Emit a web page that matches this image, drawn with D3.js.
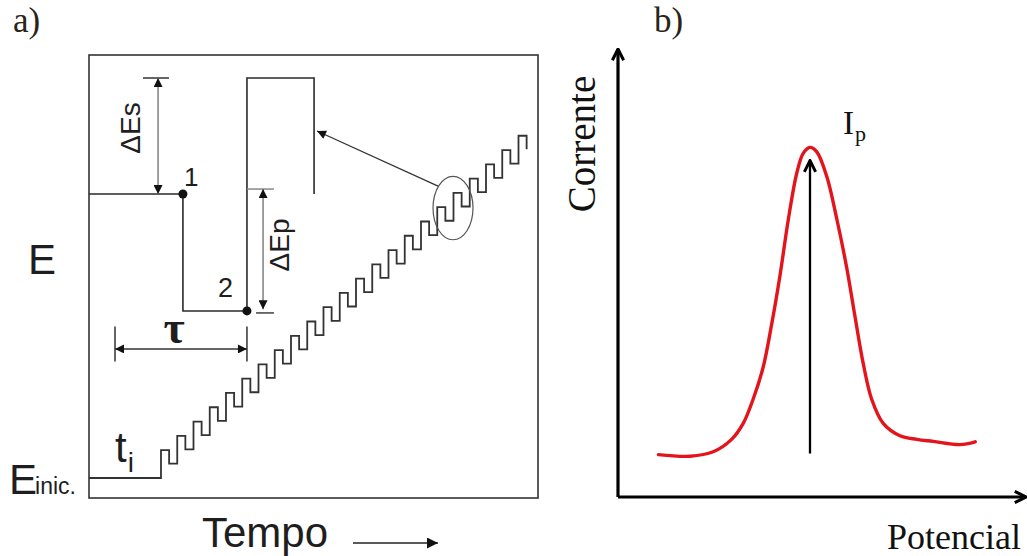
<!DOCTYPE html>
<html>
<head>
<meta charset="utf-8">
<script src="https://cdn.jsdelivr.net/npm/d3@7"></script>
<style>
  body { margin: 0; background: #fff; }
  svg { display: block; }
  .sans { font-family: "Liberation Sans", Arial, sans-serif; fill: #1e1e1e; }
  .serif { font-family: "Liberation Serif", "Times New Roman", serif; fill: #111; }
</style>
</head>
<body>
<svg id="chart"></svg>
<script>
// ---------- panel a : pulse staircase (time units, E units) ----------
const E_inic = 1.4;        // starting potential
const t_first = 4.43;      // time of first pulse (t_i)
const n_steps = 23;
const dE_step = 1;         // staircase increment
const dE_pulse = 0.95;     // pulse amplitude
const pulse_width = 0.5;
const step_period = 1;

// enlarged single pulse drawn on the left
const inset_t = [0, 5.78, 5.78, 9.72, 9.72, 13.85, 13.85];
const inset_E = [21.27, 21.27, 13.09, 13.09, 29.39, 29.39, 21.27];
const dot_t = [5.78, 9.72];
const dot_E = [21.27, 13.09];
const dot_labels = ["1", "2"];

// ---------- panel b : current vs potential peak ----------
const potencial = [1.01, 1.80, 2.38, 2.84, 3.13, 3.38, 3.63, 3.84, 4.05, 4.26, 4.47, 4.63, 4.80,
  4.97, 5.22, 5.47, 5.72, 5.93, 6.13, 6.34, 6.63, 7.05, 7.47, 7.88, 8.55, 8.93];
const corrente = [1.06, 1.02, 1.13, 1.44, 1.84, 2.45, 3.25, 4.31, 5.54, 6.95, 8.10, 8.59, 8.74,
  8.63, 8.01, 6.95, 5.72, 4.48, 3.34, 2.45, 1.84, 1.53, 1.44, 1.39, 1.31, 1.38];
const ip_potencial = 4.8;
const ip_range = [1.09, 8.41];

const width = 1027, height = 556;

const svg = d3.select("#chart")
  .attr("width", width)
  .attr("height", height);

// markers
const defs = svg.append("defs");
defs.append("marker")
  .attr("id", "tri")
  .attr("viewBox", "0 0 10 10")
  .attr("refX", 10).attr("refY", 5)
  .attr("markerUnits", "userSpaceOnUse")
  .attr("markerWidth", 18).attr("markerHeight", 9)
  .attr("orient", "auto-start-reverse")
  .append("path").attr("d", "M0,0L10,5L0,10Z").attr("fill", "#111");

defs.append("marker")
  .attr("id", "tri-big")
  .attr("viewBox", "0 0 10 10")
  .attr("refX", 10).attr("refY", 5)
  .attr("markerUnits", "userSpaceOnUse")
  .attr("markerWidth", 24).attr("markerHeight", 11)
  .attr("orient", "auto-start-reverse")
  .append("path").attr("d", "M0,0L10,5L0,10Z").attr("fill", "#111");

defs.append("marker")
  .attr("id", "chev")
  .attr("viewBox", "0 0 12 12")
  .attr("refX", 11).attr("refY", 6)
  .attr("markerUnits", "userSpaceOnUse")
  .attr("markerWidth", 15).attr("markerHeight", 15)
  .attr("orient", "auto")
  .append("path").attr("d", "M2,1.5L11,6L2,10.5")
  .attr("fill", "none").attr("stroke", "#000").attr("stroke-width", 2.4);

// ---------------- panel a ----------------
const xa = d3.scaleLinear().domain([0, 27.63]).range([89, 538]);
const ya = d3.scaleLinear().domain([0, 31]).range([498, 55]);

const ga = svg.append("g").attr("class", "panel-a");

ga.append("text").attr("class", "serif")
  .attr("x", 13).attr("y", 32)
  .style("font-size", "35px").style("fill", "#2a2418")
  .text("a)");

// frame
ga.append("rect")
  .attr("x", xa(0)).attr("y", ya(31))
  .attr("width", xa(27.63) - xa(0))
  .attr("height", ya(0) - ya(31))
  .attr("fill", "none").attr("stroke", "#333").attr("stroke-width", 1.6);

// staircase points
const stair = [[0, E_inic], [t_first, E_inic]];
for (let k = 0; k < n_steps; k++) {
  const tk = t_first + k * step_period;
  const base = E_inic + k * dE_step;
  stair.push([tk, base]);
  stair.push([tk, base + dE_step + dE_pulse]);
  stair.push([tk + pulse_width, base + dE_step + dE_pulse]);
  stair.push([tk + pulse_width, base + dE_step]);
  if (k < n_steps - 1) stair.push([tk + step_period, base + dE_step]);
}

const lineA = d3.line().x(d => xa(d[0])).y(d => ya(d[1]));

ga.append("path")
  .attr("d", lineA(stair))
  .attr("fill", "none").attr("stroke", "#333").attr("stroke-width", 1.8);

// enlarged pulse
ga.append("path")
  .attr("d", lineA(inset_t.map((t, i) => [t, inset_E[i]])))
  .attr("fill", "none").attr("stroke", "#2a2a2a").attr("stroke-width", 1.6);

ga.selectAll("circle.pt")
  .data(dot_t)
  .enter().append("circle")
  .attr("class", "pt")
  .attr("cx", d => xa(d))
  .attr("cy", (d, i) => ya(dot_E[i]))
  .attr("r", 4.5)
  .attr("fill", "#111");

ga.append("text").attr("class", "sans")
  .attr("x", xa(dot_t[0]) + 1).attr("y", ya(dot_E[0]) - 8)
  .style("font-size", "26px").text(dot_labels[0]);
ga.append("text").attr("class", "sans")
  .attr("x", xa(dot_t[1]) - 29).attr("y", ya(dot_E[1]) - 14)
  .style("font-size", "27px").text(dot_labels[1]);

// delta Es arrow
ga.append("line")
  .attr("x1", xa(3.32)).attr("x2", xa(4.92))
  .attr("y1", ya(29.39)).attr("y2", ya(29.39))
  .attr("stroke", "#333").attr("stroke-width", 1.5);
ga.append("line")
  .attr("x1", xa(4.25)).attr("x2", xa(4.25))
  .attr("y1", ya(29.39)).attr("y2", ya(21.27))
  .attr("stroke", "#777").attr("stroke-width", 1.4)
  .attr("marker-start", "url(#tri)").attr("marker-end", "url(#tri)");
ga.append("text").attr("class", "sans")
  .attr("transform", "translate(140,128) rotate(-90)")
  .attr("text-anchor", "middle")
  .style("font-size", "28px").text("ΔEs");

// delta Ep arrow
ga.append("line")
  .attr("x1", xa(9.72)).attr("x2", xa(11.38))
  .attr("y1", ya(21.62)).attr("y2", ya(21.62))
  .attr("stroke", "#888").attr("stroke-width", 1.5);
ga.append("line")
  .attr("x1", xa(10.28)).attr("x2", xa(11.38))
  .attr("y1", ya(12.95)).attr("y2", ya(12.95))
  .attr("stroke", "#333").attr("stroke-width", 1.4);
ga.append("line")
  .attr("x1", xa(10.71)).attr("x2", xa(10.71))
  .attr("y1", ya(21.62)).attr("y2", ya(13.2))
  .attr("stroke", "#777").attr("stroke-width", 1.4)
  .attr("marker-start", "url(#tri)").attr("marker-end", "url(#tri)");
ga.append("text").attr("class", "sans")
  .attr("transform", "translate(289,245) rotate(-90)")
  .attr("text-anchor", "middle")
  .style("font-size", "28px").text("ΔEp");

// tau
[1.6, 9.72].forEach(t => {
  ga.append("line")
    .attr("x1", xa(t)).attr("x2", xa(t))
    .attr("y1", ya(12.0)).attr("y2", ya(9.55))
    .attr("stroke", "#333").attr("stroke-width", 1.5);
});
ga.append("line")
  .attr("x1", xa(1.6)).attr("x2", xa(9.72))
  .attr("y1", ya(10.43)).attr("y2", ya(10.43))
  .attr("stroke", "#333").attr("stroke-width", 1.5)
  .attr("marker-start", "url(#tri)").attr("marker-end", "url(#tri)");
ga.append("text").attr("class", "serif")
  .attr("x", 174).attr("y", 343)
  .attr("text-anchor", "middle")
  .style("font-size", "46px").style("font-weight", "bold").style("fill", "#1e1e1e").text("τ");

// ellipse + pointer
ga.append("ellipse")
  .attr("cx", xa(22.4)).attr("cy", ya(20.29))
  .attr("rx", xa(22.4 + 1.23) - xa(22.4))
  .attr("ry", ya(20.29) - ya(20.29 + 2.22))
  .attr("fill", "none").attr("stroke", "#555").attr("stroke-width", 1.2);
ga.append("line")
  .attr("x1", xa(21.48)).attr("y1", ya(21.83))
  .attr("x2", xa(14.03)).attr("y2", ya(25.68))
  .attr("stroke", "#333").attr("stroke-width", 1.3)
  .attr("marker-end", "url(#tri)");

// labels
ga.append("text").attr("class", "sans")
  .attr("x", 28).attr("y", 274)
  .style("font-size", "42px").text("E");

const einic = ga.append("text").attr("class", "sans")
  .attr("x", 9).attr("y", 494);
einic.append("tspan").style("font-size", "42px").text("E");
einic.append("tspan").style("font-size", "23px").attr("dx", -2).text("inic.");

const ti = ga.append("text").attr("class", "sans")
  .attr("x", 115).attr("y", 462);
ti.append("tspan").style("font-size", "42px").text("t");
ti.append("tspan").style("font-size", "28px").attr("dx", 1).attr("dy", 10).text("i");

ga.append("text").attr("class", "sans")
  .attr("x", 202).attr("y", 547)
  .style("font-size", "42px").text("Tempo");
ga.append("line")
  .attr("x1", 353).attr("x2", 438)
  .attr("y1", 543).attr("y2", 543)
  .attr("stroke", "#222").attr("stroke-width", 1.6)
  .attr("marker-end", "url(#tri-big)");

// ---------------- panel b ----------------
const xb = d3.scaleLinear().domain([0, 10]).range([618, 1018]);
const yb = d3.scaleLinear().domain([0, 10]).range([497, 97]);

const gb = svg.append("g").attr("class", "panel-b");

gb.append("text").attr("class", "serif")
  .attr("x", 654).attr("y", 32)
  .style("font-size", "35px").style("fill", "#2a2418")
  .text("b)");

// axes
gb.append("line")
  .attr("x1", xb(0)).attr("y1", yb(0))
  .attr("x2", xb(0)).attr("y2", yb(11.2))
  .attr("stroke", "#000").attr("stroke-width", 3.2)
  .attr("marker-end", "url(#chev)");
gb.append("line")
  .attr("x1", xb(0)).attr("y1", yb(0))
  .attr("x2", xb(10.2)).attr("y2", yb(0))
  .attr("stroke", "#000").attr("stroke-width", 3.2)
  .attr("marker-end", "url(#chev)");

gb.append("text").attr("class", "serif")
  .attr("transform", "translate(595,144) rotate(-90)")
  .attr("text-anchor", "middle")
  .style("font-size", "39px").text("Corrente");

gb.append("text").attr("class", "serif")
  .attr("x", 1021).attr("y", 549)
  .attr("text-anchor", "end")
  .style("font-size", "36px").text("Potencial");

// peak curve
const lineB = d3.line()
  .x(d => xb(d[0])).y(d => yb(d[1]))
  .curve(d3.curveCatmullRom.alpha(0.5));

gb.append("path")
  .attr("d", lineB(potencial.map((p, i) => [p, corrente[i]])))
  .attr("fill", "none").attr("stroke", "#e3141c").attr("stroke-width", 3.4)
  .attr("stroke-linecap", "round");

// Ip arrow
gb.append("line")
  .attr("x1", xb(ip_potencial)).attr("x2", xb(ip_potencial))
  .attr("y1", yb(ip_range[0])).attr("y2", yb(ip_range[1]))
  .attr("stroke", "#000").attr("stroke-width", 2.3)
  .attr("marker-end", "url(#chev)");

const ip = gb.append("text").attr("class", "serif")
  .attr("x", 843).attr("y", 134);
ip.append("tspan").style("font-size", "33px").text("I");
ip.append("tspan").style("font-size", "22px").attr("dx", 1).attr("dy", 7).text("p");
</script>
</body>
</html>
